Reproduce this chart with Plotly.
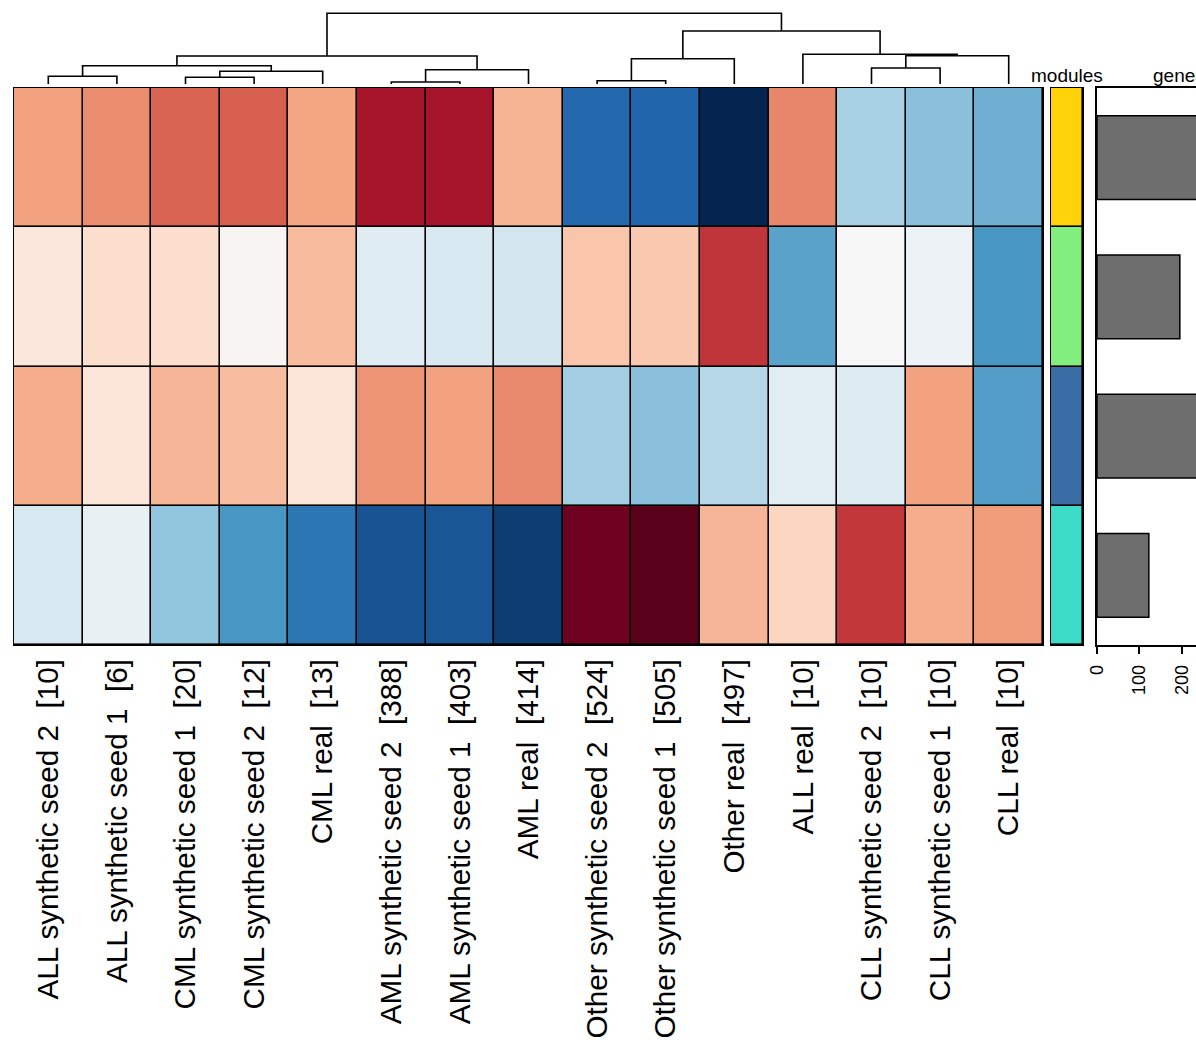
import plotly.graph_objects as go

# ---------------- data ----------------
samples = [
    "ALL synthetic seed 2", "ALL synthetic seed 1", "CML synthetic seed 1",
    "CML synthetic seed 2", "CML real", "AML synthetic seed 2",
    "AML synthetic seed 1", "AML real", "Other synthetic seed 2",
    "Other synthetic seed 1", "Other real", "ALL real",
    "CLL synthetic seed 2", "CLL synthetic seed 1", "CLL real",
]
sample_counts = [10, 6, 20, 12, 13, 388, 403, 414, 524, 505, 497, 10, 10, 10, 10]

modules = ["gold", "lightgreen", "steelblue", "turquoise"]
module_colors = ["#FFD20A", "#82EE7E", "#3A6CA6", "#3CDCC8"]
module_genes = [262, 195, 280, 122]

# module x sample scores (rows = modules in display order)
scores_gold = [0.41, 0.47, 0.59, 0.60, 0.40, 0.835, 0.835, 0.345, -0.785, -0.80,
               -1.08, 0.49, -0.33, -0.42, -0.49]
scores_lightgreen = [0.11, 0.18, 0.18, 0.02, 0.32, -0.12, -0.16, -0.19, 0.28, 0.27,
                     0.72, -0.54, 0.0, -0.06, -0.59]
scores_steelblue = [0.37, 0.13, 0.34, 0.31, 0.13, 0.45, 0.41, 0.48, -0.35, -0.42,
                    -0.29, -0.11, -0.14, 0.41, -0.56]
scores_turquoise = [-0.17, -0.08, -0.40, -0.59, -0.73, -0.87, -0.86, -0.95, 0.98, 1.07,
                    0.34, 0.22, 0.71, 0.37, 0.43]

# column dendrogram: (left node, right node, height); leaves 0..14, new nodes 15+
merges = [
    (0, 1, 7.7), (2, 3, 6.7), (16, 4, 12.7), (15, 17, 18.3),
    (5, 6, 2.0), (19, 7, 14.3), (18, 20, 28.0),
    (8, 9, 3.3), (22, 10, 25.3), (12, 13, 16.0), (24, 14, 28.3),
    (11, 25, 29.7), (23, 26, 53.0), (21, 27, 70.7),
]

# ---------------- layout helpers ----------------
W, H = 1196, 1053
def px(x):
    return x / W
def py(y):
    return 1 - y / H

FONT = "Liberation Sans, Arial, Helvetica, sans-serif"

# colour scale: reversed RdBu with darker extremes
zmin, zmax = -1.2, 1.2
stops = [(-1.2, "#021535"), (-1.0, "#053061"), (-0.8, "#2166ac"), (-0.6, "#4393c3"),
         (-0.4, "#92c5de"), (-0.2, "#d1e5f0"), (0.0, "#f7f7f7"), (0.2, "#fddbc7"),
         (0.4, "#f4a582"), (0.6, "#d6604d"), (0.8, "#b2182b"), (1.0, "#67001f"),
         (1.2, "#3f0012")]
colorscale = [[(v - zmin) / (zmax - zmin), c] for v, c in stops]

z = [scores_gold, scores_lightgreen, scores_steelblue, scores_turquoise]
n = len(samples)
cols = list(range(n))
rows = list(range(len(modules)))
ticktext = [f"{s} \u00a0[{c}]" for s, c in zip(samples, sample_counts)]

fig = go.Figure()

# main heatmap
fig.add_trace(go.Heatmap(
    z=z, x=cols, y=rows, colorscale=colorscale, zmin=zmin, zmax=zmax,
    showscale=False, xgap=1.6, ygap=1.6, xaxis="x", yaxis="y",
    text=[[f"{m} / {s}" for s in samples] for m in modules], hoverinfo="text+z",
))

# dendrogram (built from merges)
pos = {i: (float(i), 0.0) for i in range(n)}
dx, dy = [], []
for k, (a, b, h) in enumerate(merges):
    xa, ha = pos[a]
    xb, hb = pos[b]
    dx += [xa, xa, xb, xb, None]
    dy += [ha, h, h, hb, None]
    pos[n + k] = ((xa + xb) / 2, h)
fig.add_trace(go.Scatter(x=dx, y=dy, mode="lines", line=dict(color="black", width=1.6),
                         xaxis="x2", yaxis="y2", hoverinfo="skip", showlegend=False))

# module colour bar
mod_cs = []
nm = len(module_colors)
for i, c in enumerate(module_colors):
    mod_cs.append([i / nm, c])
    mod_cs.append([(i + 1) / nm, c])
fig.add_trace(go.Heatmap(
    z=[[i] for i in rows], x=[0], y=rows, colorscale=mod_cs, zmin=-0.5, zmax=nm - 0.5,
    showscale=False, xgap=1.6, ygap=1.6, xaxis="x3", yaxis="y3",
    text=[[m] for m in modules], hoverinfo="text",
))

# genes bar chart
fig.add_trace(go.Bar(
    x=module_genes, y=rows, orientation="h", width=0.6,
    marker=dict(color="#6E6E6E", line=dict(color="black", width=1.5)),
    xaxis="x4", yaxis="y4", showlegend=False,
))

hm_dom_x = [px(14), px(1043)]
hm_dom_y = [py(645), py(88)]
axis_off = dict(showgrid=False, zeroline=False, showticklabels=False, ticks="",
                automargin=False)
frame = dict(showline=True, mirror=True, linecolor="black", linewidth=1.3)

fig.update_layout(
    width=W, height=H,
    margin=dict(l=0, r=0, t=0, b=0, pad=0, autoexpand=False),
    paper_bgcolor="white", plot_bgcolor="white",
    font=dict(family=FONT, color="black"),
    showlegend=False,
    xaxis=dict(domain=hm_dom_x, range=[-0.5, n - 0.5], tickmode="array", tickvals=cols,
               ticktext=ticktext, tickangle=-90, ticks="", ticklabelstandoff=1,
               tickfont=dict(size=29.7, family=FONT, color="black"),
               showgrid=False, zeroline=False, automargin=False, **frame),
    yaxis=dict(domain=hm_dom_y, range=[len(rows) - 0.5, -0.5], showticklabels=False,
               ticks="", showgrid=False, zeroline=False, automargin=False, **frame),
    xaxis2=dict(domain=hm_dom_x, range=[-0.5, n - 0.5], anchor="y2", **axis_off),
    yaxis2=dict(domain=[py(84), 1.0], range=[0, 84], anchor="x2", **axis_off),
    xaxis3=dict(domain=[px(1051), px(1083)], range=[-0.5, 0.5], anchor="y3",
                **frame, **axis_off),
    yaxis3=dict(domain=hm_dom_y, range=[len(rows) - 0.5, -0.5], anchor="x3",
                **frame, **axis_off),
    xaxis4=dict(domain=[px(1097), 1.0], range=[0, 233], anchor="y4",
                tickmode="array", tickvals=[0, 100, 200], ticks="outside", ticklen=7,
                tickwidth=1.5, tickcolor="black", tickangle=-90, ticklabelstandoff=4,
                tickfont=dict(size=18, family=FONT, color="black"),
                showgrid=False, zeroline=False, automargin=False,
                showline=True, mirror=True, linecolor="black", linewidth=1.5),
    yaxis4=dict(domain=hm_dom_y, range=[len(rows) - 0.5, -0.5], anchor="x4",
                showgrid=False, zeroline=False, showticklabels=False, ticks="",
                automargin=False, showline=True, linecolor="black", linewidth=1.5),
    annotations=[
        dict(text="modules", x=px(1067), y=py(75), xref="paper", yref="paper",
             xanchor="center", yanchor="middle", showarrow=False,
             font=dict(size=19, family=FONT, color="black")),
        dict(text="genes", x=px(1151), y=py(75), xref="paper", yref="paper",
             xanchor="left", yanchor="middle", showarrow=False,
             font=dict(size=19, family=FONT, color="black")),
    ],
    shapes=[
        # black backing so the gaps between cells read as cell borders
        dict(type="rect", xref="x domain", yref="y domain", x0=0, x1=1, y0=0, y1=1,
             fillcolor="black", line=dict(width=0), layer="below"),
        dict(type="rect", xref="x3 domain", yref="y3 domain", x0=0, x1=1, y0=0, y1=1,
             fillcolor="black", line=dict(width=0), layer="below"),
    ],
)

fig.write_html(
    "out.html",
    config={"displayModeBar": False},
    post_script="document.body.style.margin='0';document.body.style.overflow='hidden';",
)
